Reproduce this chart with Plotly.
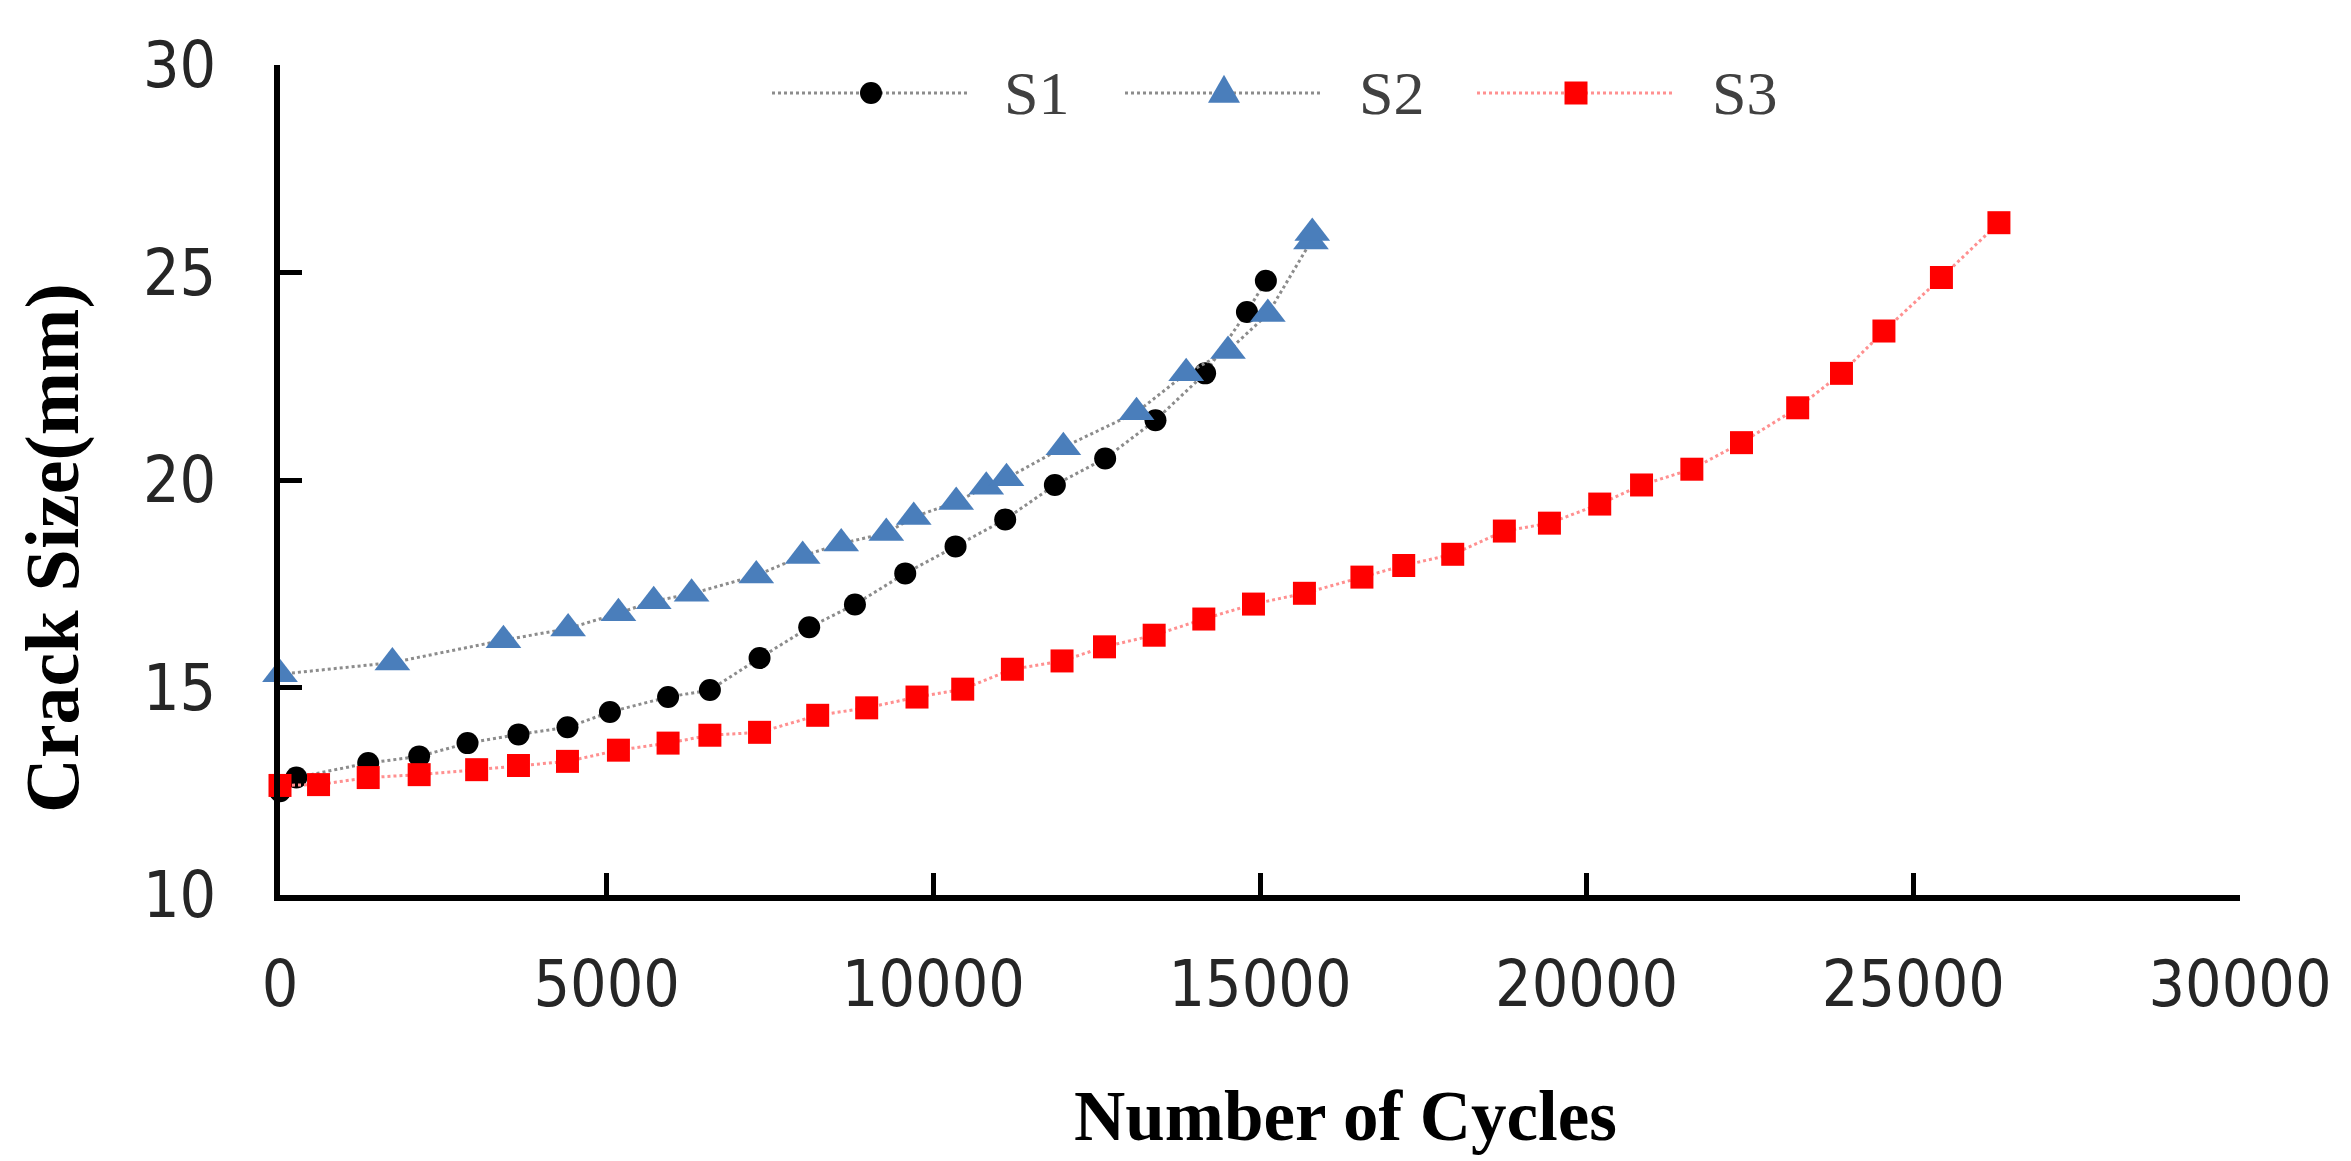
import plotly.graph_objects as go

# ---- data ----
s1_x = [0, 250, 1350, 2130, 2870, 3650, 4400, 5050, 5940, 6580, 7340, 8100, 8800,
        9570, 10340, 11100, 11860, 12630, 13400, 14160, 14800, 15090]
s1_y = [12.5, 12.83, 13.18, 13.34, 13.66, 13.87, 14.04, 14.41, 14.77, 14.94, 15.71,
        16.45, 17.0, 17.75, 18.40, 19.05, 19.88, 20.52, 21.44, 22.57, 24.05, 24.80]

s2_x = [0, 1720, 3420, 4410, 5180, 5720, 6300, 7290, 8000, 8590, 9280, 9700, 10350,
        10810, 11120, 11990, 13110, 13870, 14510, 15120, 15780, 15800]
s2_y = [15.32, 15.60, 16.14, 16.42, 16.79, 17.08, 17.26, 17.70, 18.17, 18.47, 18.72,
        19.11, 19.47, 19.84, 20.04, 20.79, 21.63, 22.57, 23.11, 24.0, 25.75, 25.95]

s3_x = [0, 590, 1350, 2130, 3010, 3650, 4400, 5180, 5940, 6580, 7340, 8230, 8980,
        9750, 10450, 11210, 11970, 12620, 13380, 14140, 14900, 15680, 16560, 17200,
        17950, 18740, 19430, 20200, 20840, 21610, 22370, 23230, 23900, 24550, 25430,
        26310]
s3_y = [12.64, 12.66, 12.83, 12.90, 13.02, 13.12, 13.22, 13.49, 13.66, 13.85, 13.92,
        14.33, 14.51, 14.77, 14.96, 15.44, 15.64, 15.98, 16.26, 16.65, 17.01, 17.27,
        17.66, 17.94, 18.21, 18.77, 18.96, 19.42, 19.88, 20.26, 20.90, 21.74, 22.57,
        23.59, 24.88, 26.20]

series_names = ["S1", "S2", "S3"]
x_ticks = [0, 5000, 10000, 15000, 20000, 25000, 30000]
y_ticks = [10, 15, 20, 25, 30]
x_title = "Number of Cycles"
y_title = "Crack Size(mm)"

# ---- styles ----
line_colors = ["#8c8c8c", "#8c8c8c", "#ff9090"]
marker_colors = ["#000000", "#4a7ebb", "#ff0000"]
marker_symbols = ["circle", "triangle-up", "square"]
marker_sizes = [22, 31, 23]

# the page body has an 8px margin; compensate so the plot lands where the reference has it
OFF = 8
W, H = 2351 - OFF, 1161 - OFF
L, R, T, B = 280 - OFF, 111, 65 - OFF, 266
PW = W - L - R          # plot width in px
PH = H - T - B          # plot height in px

fig = go.Figure()
for xs, ys, nm, lc, mc, ms, sz in zip([s1_x, s2_x, s3_x], [s1_y, s2_y, s3_y],
                                      series_names, line_colors, marker_colors,
                                      marker_symbols, marker_sizes):
    fig.add_trace(go.Scatter(
        x=xs, y=ys, name=nm, mode="lines+markers",
        line=dict(color=lc, width=3, dash="dot"),
        marker=dict(symbol=ms, size=sz, color=mc),
        cliponaxis=False, showlegend=False))

# ---- legend drawn as a key (line sample + symbol + label), horizontal at top ----
def px_to_paper_x(px):
    return (px - 280) / PW

leg_y = 1 - (93 - 65) / PH
leg_line_start = [772, 1125, 1477]
leg_line_len = 198
leg_text_x = [1002, 1357, 1710]

shapes = []
annotations = []
for i, nm in enumerate(series_names):
    x0 = px_to_paper_x(leg_line_start[i])
    x1 = px_to_paper_x(leg_line_start[i] + leg_line_len)
    xc = px_to_paper_x(leg_line_start[i] + leg_line_len / 2)
    shapes.append(dict(type="line", xref="paper", yref="paper", x0=x0, x1=x1,
                       y0=leg_y, y1=leg_y,
                       line=dict(color=line_colors[i], width=3, dash="dot")))
    common = dict(xref="paper", yref="paper", xsizemode="pixel", ysizemode="pixel",
                  xanchor=xc, yanchor=leg_y, fillcolor=marker_colors[i],
                  line=dict(width=0))
    if marker_symbols[i] == "circle":
        r = marker_sizes[i] / 2
        shapes.append(dict(type="circle", x0=-r, x1=r, y0=-r, y1=r, **common))
    elif marker_symbols[i] == "square":
        r = marker_sizes[i] / 2
        shapes.append(dict(type="rect", x0=-r, x1=r, y0=-r, y1=r, **common))
    else:
        w, h = 16, 14
        shapes.append(dict(type="path",
                           path=f"M{-w},{-h * 0.7} L{w},{-h * 0.7} L0,{h * 1.3} Z",
                           **common))
    annotations.append(dict(text=nm, xref="paper", yref="paper",
                            x=px_to_paper_x(leg_text_x[i]), y=leg_y,
                            xanchor="left", yanchor="middle", showarrow=False,
                            font=dict(family="Liberation Serif, Times New Roman, serif",
                                      size=62, color="#404040")))

# axis titles
annotations.append(dict(text="<b>" + x_title + "</b>", xref="paper", yref="paper",
                        x=px_to_paper_x(1345), y=-(1116 - 895) / PH,
                        xanchor="center", yanchor="middle", showarrow=False,
                        font=dict(family="Liberation Serif, Times New Roman, serif",
                                  size=71, color="black")))
annotations.append(dict(text="<b>" + y_title + "</b>", xref="paper", yref="paper",
                        x=px_to_paper_x(52), y=1 - (548 - 65) / PH,
                        xanchor="center", yanchor="middle", textangle=-90,
                        showarrow=False,
                        font=dict(family="Liberation Serif, Times New Roman, serif",
                                  size=76, color="black")))

tick_font = dict(family="DejaVu Sans Condensed, Liberation Sans, sans-serif",
                 size=64, color="#262626")

fig.update_layout(
    width=W, height=H,
    margin=dict(l=L, r=R, t=T, b=B, autoexpand=False),
    paper_bgcolor="white", plot_bgcolor="white",
    showlegend=False,
    shapes=shapes,
    annotations=annotations,
    xaxis=dict(range=[0, 30000], tickvals=x_ticks, tickformat="d",
               showgrid=False, zeroline=False,
               showline=True, linecolor="black", linewidth=6,
               ticks="inside", ticklen=22, tickwidth=5, tickcolor="black",
               tickfont=tick_font, ticklabelstandoff=28),
    yaxis=dict(range=[10, 30], tickvals=y_ticks,
               showgrid=False, zeroline=False,
               showline=True, linecolor="black", linewidth=6,
               ticks="inside", ticklen=22, tickwidth=5, tickcolor="black",
               tickfont=tick_font, ticklabelstandoff=45),
)

fig.write_html("out.html")
